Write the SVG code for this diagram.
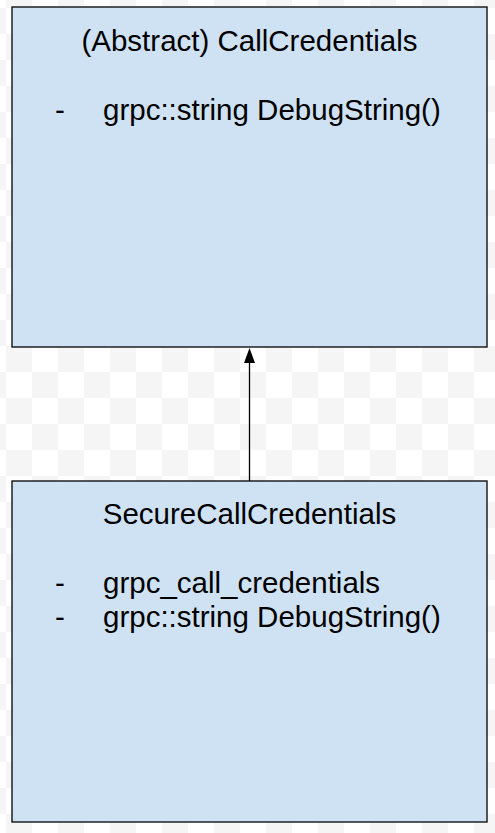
<svg xmlns="http://www.w3.org/2000/svg" width="495" height="833" viewBox="0 0 495 833">
<style>
.box{fill:#cfe2f3;stroke:#000;stroke-width:1.3}
.t{font-family:"Liberation Sans",Arial,sans-serif;font-size:29.5px;fill:#000}
.c{stroke:#000;stroke-width:1.3;fill:none}
</style>
<defs>
<pattern id="chk" x="6" y="8" width="52" height="52" patternUnits="userSpaceOnUse">
<rect width="52" height="52" fill="#fff"/>
<rect x="26" y="0" width="26" height="26" fill="#f5f5f5"/>
<rect x="0" y="26" width="26" height="26" fill="#f5f5f5"/>
</pattern>
</defs>
<rect width="495" height="833" fill="url(#chk)"/>
<g id="connectors">
<line class="c" x1="249.5" y1="481" x2="249.5" y2="360"/>
<polygon points="249.5,348 244,363 255,363" fill="#000"/>
</g>
<g id="CallCredentials">
<rect class="box" x="12" y="7" width="475" height="340"/>
<text class="t" x="249.5" y="51" text-anchor="middle">(Abstract) CallCredentials</text>
<text class="t" x="55" y="120">-</text>
<text class="t" x="103" y="120">grpc::string DebugString()</text>
</g>
<g id="SecureCallCredentials">
<rect class="box" x="12" y="481" width="475" height="341"/>
<text class="t" x="249.5" y="524" text-anchor="middle">SecureCallCredentials</text>
<text class="t" x="55" y="593">-</text>
<text class="t" x="103" y="593">grpc_call_credentials</text>
<text class="t" x="55" y="627">-</text>
<text class="t" x="103" y="627">grpc::string DebugString()</text>
</g>
</svg>
